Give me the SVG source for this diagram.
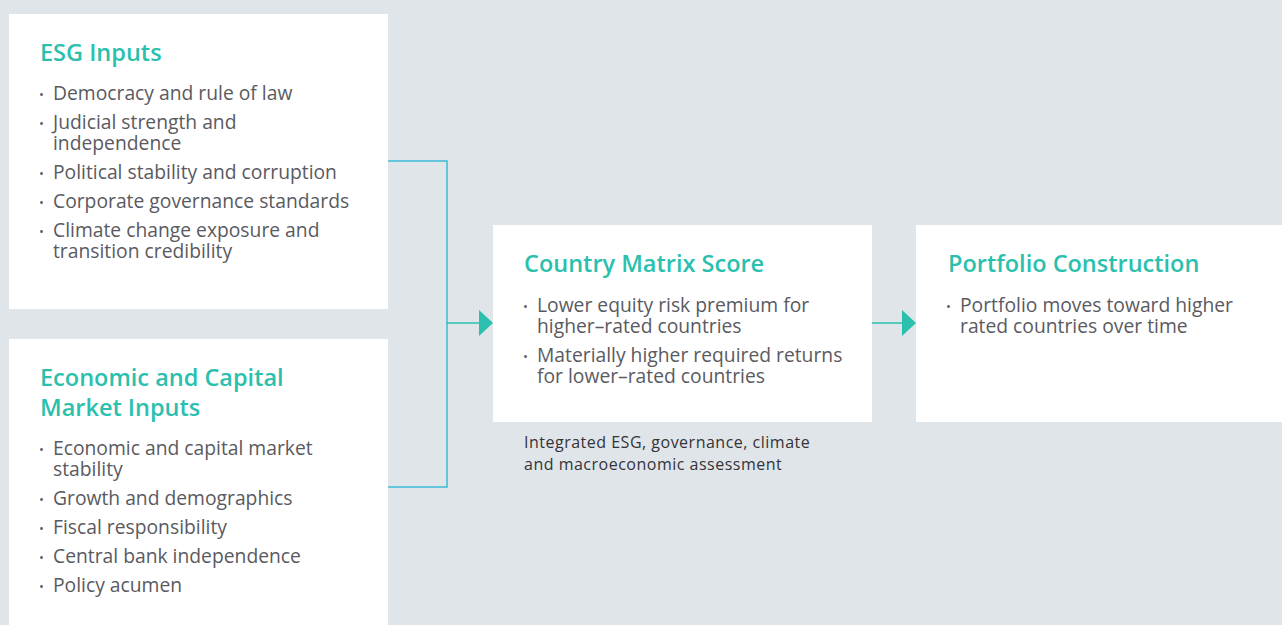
<svg xmlns="http://www.w3.org/2000/svg" width="1282" height="625" viewBox="0 0 1282 625">
<style>
.box{fill:#ffffff}
.title{font-family:"Open Sans",Lato,sans-serif;font-weight:600;font-size:23.5px;fill:#2bbfae}
.body{font-family:"Open Sans",Lato,sans-serif;font-weight:400;font-size:19.3px;fill:#5a5a5f}
.dot{font-family:"Open Sans",Lato,sans-serif;font-size:13px;fill:#5a5a5f}
.cap{font-family:"Open Sans",Lato,sans-serif;font-weight:400;font-size:16px;letter-spacing:0.5px;fill:#333338}
.wire{fill:none;stroke:#3bbcd6;stroke-width:1.5}
.flow{fill:none;stroke:#2bbfae;stroke-width:1.5}
.head{fill:#2bbfae}
</style>
<rect width="1282" height="625" fill="#e0e5e9"/>
<g id="connectors">
<polyline class="wire" points="388,161 447,161 447,487 388,487"/>
<line class="flow" x1="447" y1="323" x2="481" y2="323"/>
<polygon class="head" points="479,310 493,323 479,336"/>
<line class="flow" x1="872" y1="323" x2="904" y2="323"/>
<polygon class="head" points="902,310 916,323 902,336"/>
</g>
<g id="esg-inputs">
<rect class="box" x="9" y="14" width="379" height="295"/>
<text class="title" x="40" y="61">ESG Inputs</text>
<text class="dot" x="39" y="99">•</text><text class="body" x="53" y="100">Democracy and rule of law</text>
<text class="dot" x="39" y="128">•</text><text class="body" x="53" y="129">Judicial strength and<tspan x="53" dy="21">independence</tspan></text>
<text class="dot" x="39" y="178">•</text><text class="body" x="53" y="179">Political stability and corruption</text>
<text class="dot" x="39" y="207">•</text><text class="body" x="53" y="208">Corporate governance standards</text>
<text class="dot" x="39" y="236">•</text><text class="body" x="53" y="237">Climate change exposure and<tspan x="53" dy="21">transition credibility</tspan></text>
</g>
<g id="economic-inputs">
<rect class="box" x="9" y="339" width="379" height="286"/>
<text class="title" x="40" y="386">Economic and Capital<tspan x="40" dy="30">Market Inputs</tspan></text>
<text class="dot" x="39" y="454">•</text><text class="body" x="53" y="455">Economic and capital market<tspan x="53" dy="21">stability</tspan></text>
<text class="dot" x="39" y="504">•</text><text class="body" x="53" y="505">Growth and demographics</text>
<text class="dot" x="39" y="533">•</text><text class="body" x="53" y="534">Fiscal responsibility</text>
<text class="dot" x="39" y="562">•</text><text class="body" x="53" y="563">Central bank independence</text>
<text class="dot" x="39" y="591">•</text><text class="body" x="53" y="592">Policy acumen</text>
</g>
<g id="country-matrix">
<rect class="box" x="493" y="225" width="379" height="197"/>
<text class="title" x="524" y="272">Country Matrix Score</text>
<text class="dot" x="523" y="311">•</text><text class="body" x="537" y="312">Lower equity risk premium for<tspan x="537" dy="21">higher–rated countries</tspan></text>
<text class="dot" x="523" y="361">•</text><text class="body" x="537" y="362">Materially higher required returns<tspan x="537" dy="21">for lower–rated countries</tspan></text>
<text class="cap" x="524" y="448">Integrated ESG, governance, climate<tspan x="524" dy="22">and macroeconomic assessment</tspan></text>
</g>
<g id="portfolio">
<rect class="box" x="916" y="225" width="366" height="197"/>
<text class="title" x="948" y="272">Portfolio Construction</text>
<text class="dot" x="946" y="311">•</text><text class="body" x="960" y="312">Portfolio moves toward higher<tspan x="960" dy="21">rated countries over time</tspan></text>
</g>
</svg>
